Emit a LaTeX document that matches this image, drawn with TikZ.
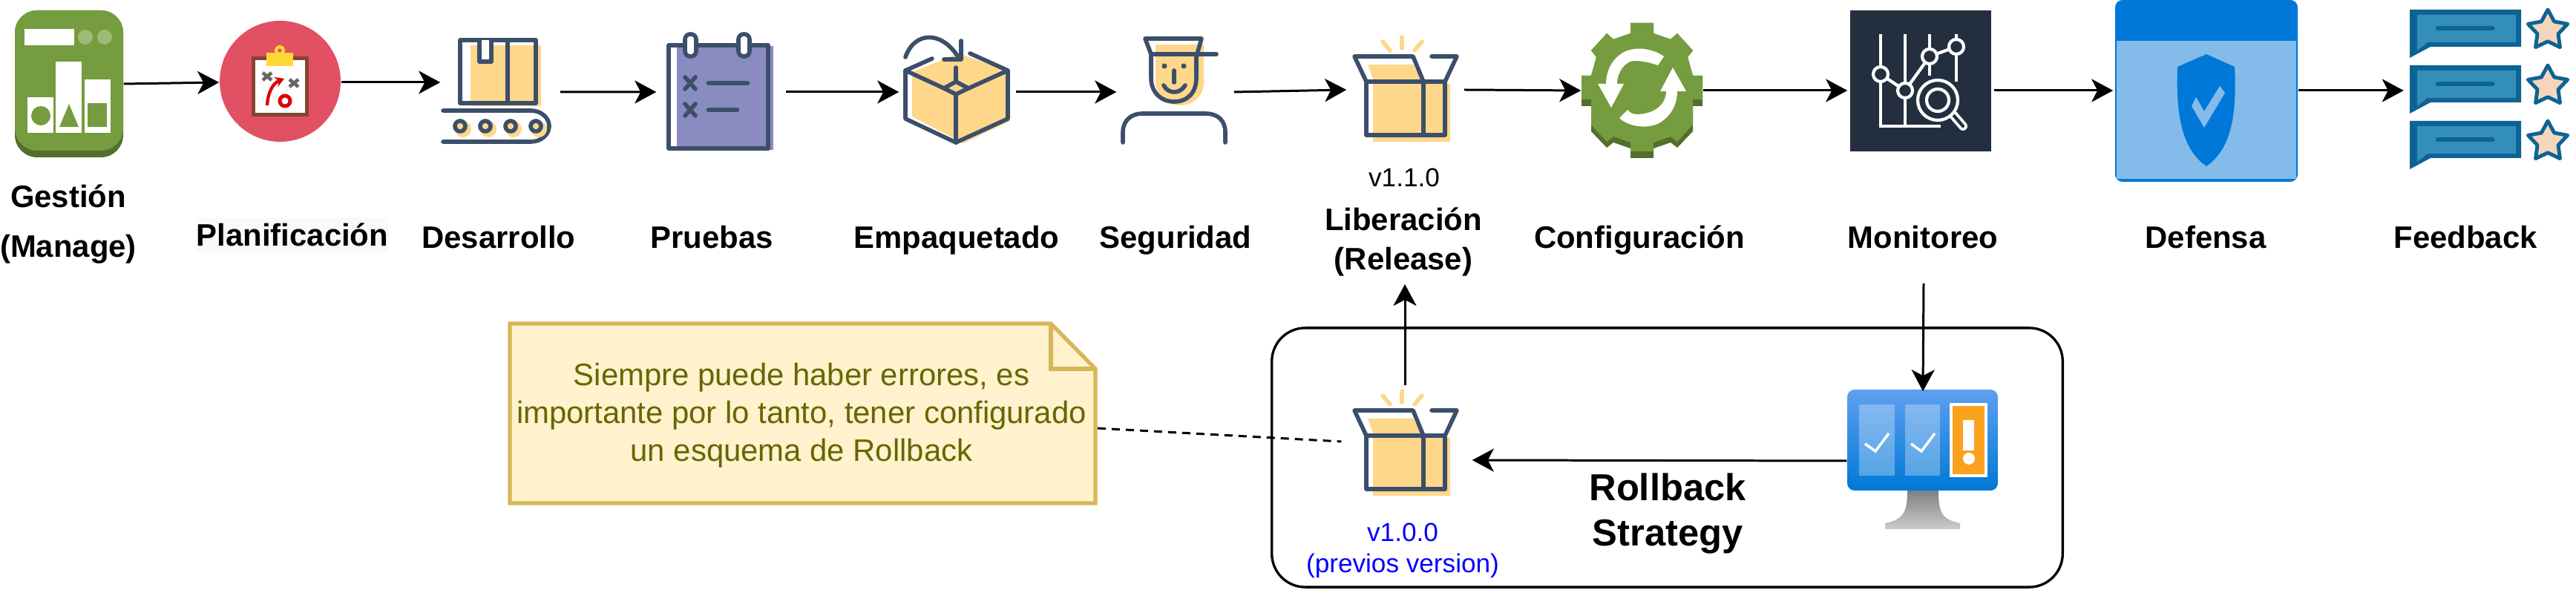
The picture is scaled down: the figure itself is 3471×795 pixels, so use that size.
\documentclass[tikz,border=0pt]{standalone}
\usepackage{fontspec}
\setmainfont{Liberation Sans}
\usetikzlibrary{arrows.meta,shapes.geometric}
\definecolor{navy}{HTML}{3B4F6B}
\definecolor{peach}{HTML}{FED78A}
\definecolor{lila}{HTML}{8A8BC1}
\definecolor{verde}{HTML}{759C3E}
\definecolor{verdeosc}{HTML}{546E2C}
\definecolor{azul}{HTML}{0078D7}
\definecolor{celeste}{HTML}{83BBEA}
\definecolor{charla}{HTML}{0D6394}
\definecolor{charlaclaro}{HTML}{338EB9}
\definecolor{rosa}{HTML}{E25063}
\definecolor{cafe}{HTML}{84452F}
\definecolor{pinza}{HTML}{FDD835}
\definecolor{pizarra}{HTML}{232F3E}
\definecolor{piel}{HTML}{F6D6BB}
\definecolor{notafondo}{HTML}{FFF2CC}
\definecolor{notaborde}{HTML}{D6B656}
\definecolor{notatexto}{HTML}{666600}
\definecolor{pantalla}{HTML}{5EA0EF}
\definecolor{naranja}{HTML}{FAA21D}
\definecolor{plano}{HTML}{F8F9FA}
\tikzset{
    icono/.style={inner sep=0pt},
    flecha/.style={-{Stealth[length=2.9mm,width=3.1mm,inset=0.8mm]},line width=0.85pt,black},
    trazo/.style={draw=navy,line width=1.6pt,line cap=round,line join=round},
    blanco/.style={draw=white,line width=1.2pt},
    titulo/.style={font=\fontsize{11.9}{15}\selectfont\bfseries,align=center},
    version/.style={font=\fontsize{10}{12}\selectfont,align=center},
    estrella/.style={star,star points=5,star point ratio=1.9,minimum size=0.56cm,draw=charla,fill=piel,line width=1.4pt,line join=round}
}
\begin{document}
\begin{tikzpicture}[x=0.01cm,y=0.01cm]
            \tikzstyle{every node}+=[inner sep=0pt]
            \useasboundingbox (0,0) rectangle (3471,-795);
            \node [icono,minimum width=1.46cm,minimum height=1.98cm] (gestion) at (93,-113) {};
            \node [icono,minimum width=1.63cm,minimum height=1.63cm] (planif) at (377.5,-111) {};
            \node [icono,minimum width=1.6cm,minimum height=1.4cm] (desarrollo) at (674,-111) {};
            \node [icono,minimum width=1.73cm,minimum height=1.6cm] (pruebas) at (971.5,-124) {};
            \node [icono,minimum width=1.56cm,minimum height=1.4cm] (empaquetado) at (1290,-124) {};
            \node [icono,minimum width=1.57cm,minimum height=1.4cm] (seguridad) at (1583.5,-124) {};
            \node [icono,minimum width=1.57cm,minimum height=1.4cm] (liberacion) at (1893.5,-121) {};
            \node [icono,minimum width=1.63cm,minimum height=1.8cm] (config) at (2212.5,-122) {};
            \node [icono,minimum width=1.96cm,minimum height=1.9cm] (monitoreo) at (2588,-122) {};
            \node [icono,minimum width=2.48cm,minimum height=2.44cm] (defensa) at (2972,-122) {};
            \node [icono,minimum width=2.21cm,minimum height=2.2cm] (feedback) at (3350,-122) {};
            \node [draw,line width=0.95pt,rounded corners=4.5mm,minimum width=10.65cm,minimum height=3.49cm] (rollback) at (2246.5,-616.5) {};
            \node [icono,minimum width=1.8cm,minimum height=2cm] (previa) at (1893,-620) {};
            \node [icono,minimum width=2.04cm,minimum height=1.86cm] (alerta) at (2591,-621) {};
            \coordinate (subefin) at (1893,-383);
            \coordinate (bajaini) at (2592,-382);
            \fill [verdeosc,rounded corners=3mm] (20,-14) rectangle (166,-212);
            \fill [verde,rounded corners=3mm] (20,-14) rectangle (166,-203);
            \fill [white] (33,-39) rectangle (100,-61);
            \fill [white,opacity=0.3] (115,-50) circle (10);
            \fill [white,opacity=0.3] (141,-50) circle (10);
            \fill [white] (37,-131) rectangle (72,-179);
            \fill [white] (75,-83) rectangle (110,-179);
            \fill [white] (114,-107) rectangle (149,-179);
            \fill [verde] (55,-156) circle (13);
            \fill [verde] (93,-140) -- (106,-171) -- (80,-171) -- cycle;
            \fill [verde] (118,-139) rectangle (144,-171);
            \fill [rosa] (377.5,-109.5) circle (81.5);
            \fill [cafe] (339,-76) rectangle (416,-157);
            \fill [white] (344,-81) rectangle (411,-152);
            \draw [pinza,line width=1.2pt] (377,-68) circle (5);
            \fill [pinza] (359,-71) rectangle (395,-89);
            \draw [gray!80!black,line width=1.3pt] (354,-98) -- (366,-108) (354,-108) -- (366,-98);
            \draw [gray!80!black,line width=1.3pt] (390,-107) -- (402,-117) (390,-117) -- (402,-107);
            \draw [red!85!black,line width=1.2pt,-{Stealth[length=1.2mm,width=1.4mm]}] (360,-142) .. controls (361,-124) and (368,-112) .. (383,-106);
            \draw [red!85!black,line width=1.4pt] (384,-136) circle (7);
            \fill [peach] (634,-61) rectangle (729,-143);
            \draw [trazo] (620,-54) rectangle (722,-139);
            \draw [trazo,fill=white] (646,-54) -- (646,-83) -- (662,-83) -- (662,-54);
            \draw [trazo] (684,-54) -- (684,-139);
            \draw [trazo] (597,-149) -- (715,-149) arc [start angle=90,end angle=-90,x radius=25,y radius=21] -- (597,-191);
            \fill [peach] (624,-174) circle (11);
            \fill [peach] (658,-174) circle (11);
            \fill [peach] (692,-174) circle (11);
            \fill [peach] (726,-174) circle (11);
            \draw [trazo,fill=peach] (620,-170) circle (7);
            \draw [trazo,fill=peach] (654,-170) circle (7);
            \draw [trazo,fill=peach] (688,-170) circle (7);
            \draw [trazo,fill=peach] (722,-170) circle (7);
            \fill [lila] (912,-62) rectangle (1042,-202);
            \draw [trazo] (901,-61) rectangle (1035,-200);
            \draw [trazo,fill=white,rounded corners=0.7mm] (923,-46) rectangle (938,-76);
            \draw [trazo,fill=white,rounded corners=0.7mm] (995,-46) rectangle (1010,-76);
            \draw [trazo] (923,-104) -- (937,-120) (923,-120) -- (937,-104);
            \draw [trazo] (923,-140) -- (937,-156) (923,-156) -- (937,-140);
            \draw [trazo,line width=1.9pt] (955,-112) -- (1007,-112);
            \draw [trazo,line width=1.9pt] (955,-148) -- (993,-148);
            \fill [peach] (1229,-97) -- (1292,-72) -- (1361,-97) -- (1361,-163) -- (1298,-193) -- (1229,-157) -- cycle;
            \draw [trazo] (1256,-79) -- (1220,-95) -- (1220,-160) -- (1288,-192) -- (1358,-160) -- (1358,-95) -- (1307,-72);
            \draw [trazo] (1220,-95) -- (1272,-119) -- (1288,-127) -- (1305,-119) -- (1358,-95);
            \draw [trazo] (1272,-119) -- (1288,-110) -- (1305,-119);
            \draw [trazo] (1288,-127) -- (1288,-192);
            \draw [trazo] (1288,-91) -- (1288,-110);
            \draw [trazo] (1220,-77) .. controls (1232,-42) and (1270,-40) .. (1293,-80);
            \draw [trazo] (1272,-80) -- (1295,-80) -- (1295,-55);
            \fill [peach] (1557,-60) -- (1622,-60) -- (1622,-110) .. controls (1622,-132) and (1605,-142) .. (1590,-142) .. controls (1572,-142) and (1557,-130) .. (1557,-110) -- cycle;
            \draw [trazo] (1543,-52) -- (1619,-52) -- (1613,-73) -- (1551,-73) -- cycle;
            \draw [trazo] (1551,-73) -- (1639,-73);
            \draw [trazo] (1551,-73) -- (1551,-105) .. controls (1551,-125) and (1565,-137) .. (1582,-137) .. controls (1600,-137) and (1612,-125) .. (1612,-105) -- (1612,-73);
            \fill [navy] (1569,-89) circle (3.5);
            \fill [navy] (1595,-89) circle (3.5);
            \draw [trazo] (1582,-95) -- (1582,-111);
            \draw [trazo] (1568,-115) .. controls (1574,-127) and (1590,-127) .. (1597,-115);
            \draw [trazo] (1513,-192) -- (1513,-178) .. controls (1513,-162) and (1525,-153) .. (1539,-153) -- (1625,-153) .. controls (1640,-153) and (1651,-162) .. (1651,-178) -- (1651,-192);
            \fill [peach] (1850,-113) rectangle (1954,-191);
            \fill [peach] (1843,-87) -- (1904,-87) -- (1915,-107) -- (1850,-107) -- cycle;
            \draw [trazo] (1841,-110) rectangle (1947,-182);
            \draw [trazo] (1918,-110) -- (1918,-182);
            \draw [trazo] (1841,-110) -- (1825,-76) -- (1904,-76) -- (1918,-110);
            \draw [trazo] (1929,-76) -- (1963,-76) -- (1947,-110);
            \draw [trazo,peach] (1889,-50) -- (1889,-65);
            \draw [trazo,peach] (1863,-56) -- (1873,-68);
            \draw [trazo,peach] (1916,-56) -- (1906,-68);
            \fill [verdeosc] (2197,-31) -- (2228,-31) -- (2228,-45) -- (2251,-53) -- (2260,-45) -- (2281,-68) -- (2274,-77) -- (2281,-102) -- (2294,-102) -- (2294,-143) -- (2281,-143) -- (2281,-177) -- (2260,-199) -- (2251,-192) -- (2228,-200) -- (2228,-213) -- (2197,-213) -- (2197,-200) -- (2174,-192) -- (2165,-199) -- (2144,-177) -- (2144,-143) -- (2131,-143) -- (2131,-102) -- (2144,-102) -- (2151,-77) -- (2144,-68) -- (2165,-45) -- (2174,-53) -- (2197,-45) -- cycle;
            \fill [verde] (2197,-31) -- (2228,-31) -- (2228,-45) -- (2251,-53) -- (2260,-45) -- (2281,-68) -- (2274,-77) -- (2281,-102) -- (2294,-102) -- (2294,-134) -- (2281,-134) -- (2281,-168) -- (2260,-191) -- (2251,-184) -- (2228,-192) -- (2228,-204) -- (2197,-204) -- (2197,-192) -- (2174,-184) -- (2165,-191) -- (2144,-168) -- (2144,-134) -- (2131,-134) -- (2131,-102) -- (2144,-102) -- (2151,-77) -- (2144,-68) -- (2165,-45) -- (2174,-53) -- (2197,-45) -- cycle;
            \fill [white] (2242,-76) .. controls (2225,-64) and (2200,-62) .. (2185,-72) .. controls (2170,-82) and (2164,-98) .. (2164,-113) -- (2153,-113) -- (2171,-145) -- (2188,-113) -- (2179,-113) .. controls (2179,-97) and (2190,-82) .. (2202,-82) .. controls (2215,-82) and (2225,-85) .. (2234,-88) -- cycle;
            \fill [white] (2182,-159) .. controls (2195,-172) and (2225,-175) .. (2240,-163) .. controls (2255,-152) and (2260,-137) .. (2260,-123) -- (2272,-123) -- (2254,-91) -- (2237,-123) -- (2245,-123) .. controls (2245,-140) and (2230,-154) .. (2205,-154) .. controls (2198,-154) and (2195,-150) .. (2193,-148) -- cycle;
            \fill [pizarra] (2493,-14) rectangle (2683,-204);
            \draw [blanco] (2534,-46) -- (2534,-170) -- (2615,-170);
            \draw [blanco] (2567,-46) -- (2567,-170);
            \draw [blanco] (2600,-46) -- (2600,-102);
            \draw [blanco] (2636,-46) -- (2636,-110);
            \draw [blanco] (2534,-100) -- (2567,-122) -- (2600,-76) -- (2636,-63);
            \draw [blanco,fill=pizarra] (2534,-100) circle (10);
            \draw [blanco,fill=pizarra] (2567,-122) circle (10);
            \draw [blanco,fill=pizarra] (2600,-76) circle (10);
            \draw [blanco,fill=pizarra] (2636,-63) circle (10);
            \draw [blanco,line width=3.4pt,line cap=round] (2632,-155) -- (2645,-170);
            \draw [pizarra,line width=1.2pt,line cap=round] (2632,-155) -- (2645,-170);
            \draw [blanco,fill=pizarra] (2611,-135) circle (27);
            \draw [blanco] (2611,-135) circle (15);
            \fill [azul,rounded corners=1mm] (2850,-245) rectangle (3096,0);
            \fill [celeste] (2852,-55) rectangle (3094,-241);
            \fill [azul] (2973,-73) -- (3011,-90) .. controls (3014,-150) and (3008,-200) .. (2973,-224) .. controls (2938,-200) and (2932,-150) .. (2934,-90) -- cycle;
            \fill [celeste] (2959,-131) -- (2970,-150) -- (2991,-116) -- (2998,-125) -- (2970,-172) -- (2953,-143) -- cycle;
            \fill [charla] (3247,-13) -- (3397,-13) -- (3397,-63) -- (3275,-63) -- (3247,-78) -- cycle;
            \fill [charlaclaro] (3257,-20) -- (3390,-20) -- (3390,-57) -- (3271,-57) -- (3257,-68) -- cycle;
            \draw [charla,line width=1.9pt,line cap=round] (3285,-38) -- (3358,-38);
            \fill [charla] (3247,-88) -- (3397,-88) -- (3397,-138) -- (3275,-138) -- (3247,-153) -- cycle;
            \fill [charlaclaro] (3257,-95) -- (3390,-95) -- (3390,-132) -- (3271,-132) -- (3257,-143) -- cycle;
            \draw [charla,line width=1.9pt,line cap=round] (3285,-113) -- (3358,-113);
            \fill [charla] (3247,-163) -- (3397,-163) -- (3397,-213) -- (3275,-213) -- (3247,-228) -- cycle;
            \fill [charlaclaro] (3257,-170) -- (3390,-170) -- (3390,-207) -- (3271,-207) -- (3257,-218) -- cycle;
            \draw [charla,line width=1.9pt,line cap=round] (3285,-188) -- (3358,-188);
            \node [estrella] (estrella1) at (3433,-41) {};
            \node [estrella] (estrella2) at (3433,-116) {};
            \node [estrella] (estrella3) at (3433,-191) {};
            \fill [peach] (1850,-590) rectangle (1954,-668);
            \fill [peach] (1843,-564) -- (1904,-564) -- (1915,-584) -- (1850,-584) -- cycle;
            \draw [trazo] (1841,-587) rectangle (1947,-659);
            \draw [trazo] (1918,-587) -- (1918,-659);
            \draw [trazo] (1841,-587) -- (1825,-553) -- (1904,-553) -- (1918,-587);
            \draw [trazo] (1929,-553) -- (1963,-553) -- (1947,-587);
            \draw [trazo,peach] (1889,-527) -- (1889,-542);
            \draw [trazo,peach] (1863,-533) -- (1873,-545);
            \draw [trazo,peach] (1916,-533) -- (1906,-545);
            \shade [top color=gray,bottom color=gray!40] (2570,-661) .. controls (2570,-690) and (2565,-700) .. (2540,-705) -- (2540,-713) -- (2641,-713) -- (2641,-705) .. controls (2616,-700) and (2612,-690) .. (2612,-661) -- cycle;
            \shade [top color=pantalla,bottom color=azul,rounded corners=1mm] (2489,-525) rectangle (2692,-661);
            \fill [white,opacity=0.3] (2505,-545) rectangle (2553,-641);
            \fill [white,opacity=0.3] (2567,-545) rectangle (2614,-641);
            \draw [white,line width=1.2pt,fill=naranja] (2629,-545) rectangle (2676,-641);
            \fill [white] (2645,-566) rectangle (2660,-607);
            \fill [white] (2653,-618) circle (8);
            \draw [white,line width=1pt] (2513,-598) -- (2527,-608) -- (2545,-584);
            \draw [white,line width=1pt] (2575,-598) -- (2589,-608) -- (2607,-584);
            \fill [notafondo] (686,-434) -- (1416,-434) -- (1476,-497) -- (1476,-680) -- (686,-680) -- cycle;
            \draw [notaborde,line width=1.5pt] (687,-436) -- (1416,-436) -- (1476,-497) -- (1476,-678) -- (687,-678) -- cycle;
            \draw [notaborde,line width=1.5pt] (1416,-436) -- (1416,-497) -- (1476,-497);
            \node [inner sep=0pt,minimum width=7.92cm,minimum height=2.46cm] (nota) at (1082,-557) {};
            \draw [flecha] (gestion.east) -- (planif.west);
            \draw [flecha] (planif.east) -- (desarrollo.west);
            \draw [flecha] ([yshift=-1.3mm]desarrollo.east) -- (pruebas.west);
            \draw [flecha] (pruebas.east) -- (empaquetado.west);
            \draw [flecha] (empaquetado.east) -- (seguridad.west);
            \draw [flecha] (seguridad.east) -- (liberacion.west);
            \draw [flecha] (liberacion.east) -- (config.west);
            \draw [flecha] (config.east) -- (monitoreo.west);
            \draw [flecha] (monitoreo.east) -- (defensa.west);
            \draw [flecha] (defensa.east) -- (feedback.west);
            \draw [flecha] (previa.north) -- (subefin);
            \draw [flecha] (bajaini) -- (alerta.north);
            \draw [flecha] (alerta.west) -- (previa.east);
            \draw [line width=0.85pt,dash pattern=on 1.1mm off 0.8mm] ([yshift=-2mm]nota.east) -- ([xshift=0.5mm,yshift=2.5mm]previa.west);
            \node [titulo,font=\fontsize{11.9}{19}\selectfont\bfseries,anchor=center] (txtgestion) at (92,-302) {Gestión\\(Manage)};
            \node [titulo,anchor=base,fill=plano,minimum width=2.57cm,minimum height=0.48cm] (txtplanif) at (394,-332) {Planificación};
            \node [titulo,anchor=base] (txtdesarrollo) at (672,-335) {Desarrollo};
            \node [titulo,anchor=base] (txtpruebas) at (959,-335) {Pruebas};
            \node [titulo,anchor=base] (txtempaquetado) at (1289,-335) {Empaquetado};
            \node [titulo,anchor=base] (txtseguridad) at (1584,-335) {Seguridad};
            \node [version,anchor=base] (txtvnueva) at (1892,-252) {v1.1.0};
            \node [titulo,anchor=center] (txtliberacion) at (1891,-326) {Liberación\\(Release)};
            \node [titulo,anchor=base] (txtconfig) at (2209,-335) {Configuración};
            \node [titulo,anchor=base] (txtmonitoreo) at (2591,-335) {Monitoreo};
            \node [titulo,anchor=base] (txtdefensa) at (2972,-335) {Defensa};
            \node [titulo,anchor=base] (txtfeedback) at (3322,-335) {Feedback};
            \node [font=\fontsize{11.9}{14.5}\selectfont,align=center,text=notatexto,anchor=center] (txtnota) at (1080,-560) {Siempre puede haber errores, es\\importante por lo tanto, tener configurado\\un esquema de Rollback};
            \node [version,text=blue,anchor=center] (txtvprevia) at (1890,-742) {v1.0.0\\(previos version)};
            \node [font=\fontsize{14.4}{17.6}\selectfont\bfseries,align=center,anchor=center] (txtestrategia) at (2247,-692) {Rollback\\Strategy};
\end{tikzpicture}
\end{document}
